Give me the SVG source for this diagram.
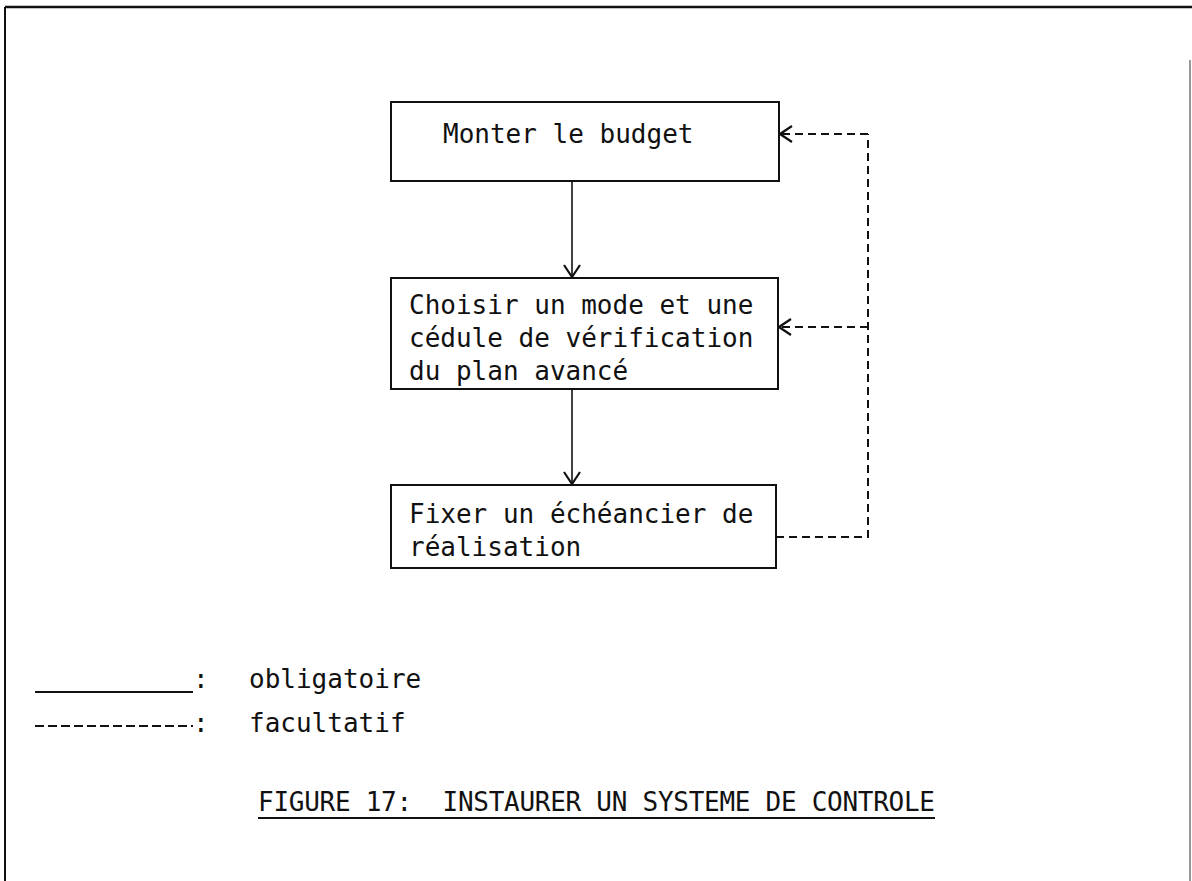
<svg xmlns="http://www.w3.org/2000/svg" width="1192" height="881" viewBox="0 0 1192 881">
<defs>
<style>
.t{font-family:"DejaVu Sans Mono","Liberation Mono",monospace;font-size:26px;fill:#111;white-space:pre}
.box{fill:#fff;stroke:#111;stroke-width:2}
.solid{fill:none;stroke:#111;stroke-width:1.6}
.dash{fill:none;stroke:#111;stroke-width:2;stroke-dasharray:8 5}
</style>
<marker id="arr" viewBox="0 0 14 18" refX="13" refY="9" markerWidth="14" markerHeight="18" markerUnits="userSpaceOnUse" orient="auto">
<path d="M1,1 L13,9 L1,17" fill="none" stroke="#111" stroke-width="2.2"/>
</marker>
</defs>
<rect width="1192" height="881" fill="#fff"/>
<g id="frame" fill="none" stroke="#111">
<line x1="5" y1="7" x2="1192" y2="7" stroke-width="2.5"/>
<line x1="5" y1="7" x2="5" y2="881" stroke-width="2"/>
<line x1="1190" y1="60" x2="1190" y2="881" stroke-width="1.2" stroke="#555"/>
</g>
<g id="node-budget">
<rect class="box" x="391" y="102" width="388" height="79"/>
<text class="t" x="443" y="143">Monter le budget</text>
</g>
<g id="node-choisir">
<rect class="box" x="391" y="278" width="387" height="111"/>
<text class="t" x="409" y="314">Choisir un mode et une</text>
<text class="t" x="409" y="347">cédule de vérification</text>
<text class="t" x="409" y="380">du plan avancé</text>
</g>
<g id="node-fixer">
<rect class="box" x="391" y="485" width="385" height="83"/>
<text class="t" x="409" y="523">Fixer un échéancier de</text>
<text class="t" x="409" y="556">réalisation</text>
</g>
<g id="connectors">
<line class="solid" x1="572" y1="181" x2="572" y2="277" marker-end="url(#arr)"/>
<line class="solid" x1="572" y1="389" x2="572" y2="484" marker-end="url(#arr)"/>
<path class="dash" d="M776,537 H868 V134"/>
<path class="dash" d="M868,134 H780" marker-end="url(#arr)"/>
<path class="dash" d="M868,327 H779" marker-end="url(#arr)"/>
</g>
<g id="legend">
<line x1="35" y1="692" x2="193" y2="692" stroke="#111" stroke-width="2"/>
<text class="t" x="193" y="688">:</text>
<text class="t" x="249" y="688">obligatoire</text>
<line x1="35" y1="726" x2="193" y2="726" stroke="#111" stroke-width="2" stroke-dasharray="9 4"/>
<text class="t" x="193" y="732">:</text>
<text class="t" x="249" y="732">facultatif</text>
</g>
<g id="title">
<text class="t" x="258" y="811" font-size="25" textLength="677" lengthAdjust="spacing" xml:space="preserve">FIGURE 17:  INSTAURER UN SYSTEME DE CONTROLE</text>
<line x1="258" y1="818" x2="935" y2="818" stroke="#111" stroke-width="2"/>
</g>
</svg>
